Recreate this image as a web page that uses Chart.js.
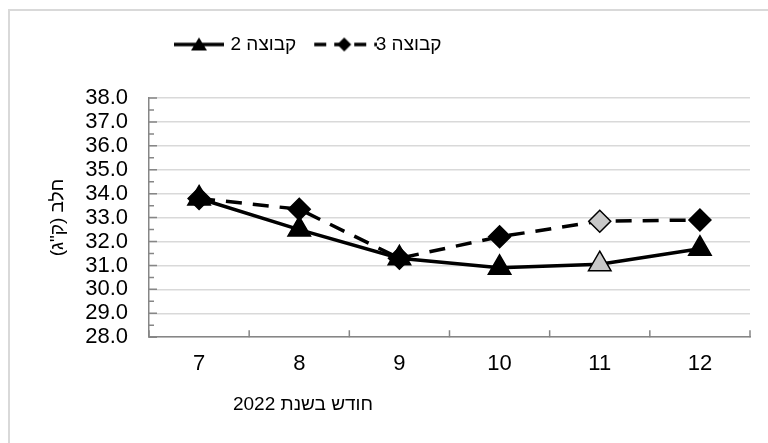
<!DOCTYPE html>
<html lang="he">
<head>
<meta charset="utf-8">
<title>חלב לפי חודש</title>
<script src="https://cdn.jsdelivr.net/npm/chart.js@4.4.1/dist/chart.umd.min.js"></script>
<style>
  html, body { margin: 0; padding: 0; background: #fff; }
  #wrap { position: relative; width: 768px; height: 443px; overflow: hidden; }
  #frame { position: absolute; left: 8px; top: 9px; width: 820px; height: 520px; border: 2px solid #d9d9d9; box-sizing: border-box; }
  #chart { position: absolute; left: 0; top: 0; }
</style>
</head>
<body>
<div id="wrap">
  <div id="frame"></div>
  <canvas id="chart" width="768" height="443"></canvas>
</div>
<script>
// data
const months = ['7', '8', '9', '10', '11', '12'];
const group2 = [33.8, 32.5, 31.3, 30.9, 31.05, 31.7];
const group3 = [33.8, 33.35, 31.3, 32.2, 32.85, 32.9];
const seriesNames = ['קבוצה 2', 'קבוצה 3'];
const yMin = 28, yMax = 38, yStep = 1;
const xTitle = 'חודש בשנת 2022';
const yTitle = 'חלב (ק"ג)';
const greyMonth = '11';   // this month's markers are drawn light grey

const FONT = "'Liberation Sans', Arial, sans-serif";
const axisGrey = '#868686';
const gridGrey = '#d9d9d9';
const lightFill = '#c8c8c8';

// legend keys: line with marker in the middle
function makeKey(dashed, shape) {
    const c = document.createElement('canvas');
    c.width = dashed ? 66 : 50;
    c.height = 20;
    const g = c.getContext('2d');
    const cx = c.width / 2;
    g.strokeStyle = '#000';
    g.lineWidth = 3.5;
    g.beginPath();
    if (dashed) {
        g.setLineDash([12, 8]);
        g.moveTo(3, 10);
    } else {
        g.moveTo(0, 10);
    }
    g.lineTo(c.width, 10);
    g.stroke();
    g.setLineDash([]);
    g.fillStyle = '#000';
    g.beginPath();
    if (shape === 'triangle') {
        g.moveTo(cx, 3); g.lineTo(cx + 8, 16); g.lineTo(cx - 8, 16);
    } else {
        g.moveTo(cx, 3); g.lineTo(cx + 7, 10); g.lineTo(cx, 17); g.lineTo(cx - 7, 10);
    }
    g.closePath(); g.fill();
    return c;
}
const keyImages = [makeKey(false, 'triangle'), makeKey(true, 'diamond')];

const pointFill = ctx => months[ctx.dataIndex] === greyMonth ? lightFill : '#000';

// short tick marks inside the plot, minor ones at half steps
const innerTicks = {
    id: 'innerTicks',
    beforeDatasetsDraw(chart) {
        const { ctx, chartArea, scales: { x, y } } = chart;
        ctx.save();
        ctx.strokeStyle = axisGrey;
        ctx.lineWidth = 1.5;
        ctx.beginPath();
        for (let i = 0; i <= (yMax - yMin) * 2; i++) {
            const v = yMin + i / 2;
            const py = y.getPixelForValue(v);
            ctx.moveTo(chartArea.left, py);
            ctx.lineTo(chartArea.left + (i % 2 === 0 ? 8 : 5), py);
        }
        for (let i = 0; i <= months.length; i++) {
            const px = x.getPixelForValue(i - 0.5);
            ctx.moveTo(px, chartArea.bottom);
            ctx.lineTo(px, chartArea.bottom - 7);
        }
        ctx.stroke();
        ctx.restore();
    }
};

// legend and caption sit left of the plot centre
const placeBlocks = {
    id: 'placeBlocks',
    afterLayout(chart) {
        const lg = chart.legend;
        const dy = 9 - lg.top;
        lg.top += dy; lg.bottom += dy;
        lg.left = 151;
        const tb = chart.titleBlock;
        tb.left = 203; tb.right = 403;
    }
};

new Chart(document.getElementById('chart'), {
    type: 'line',
    data: {
        labels: months,
        datasets: [
            {
                label: seriesNames[0],
                data: group2,
                borderColor: '#000',
                borderWidth: 3.5,
                pointStyle: 'triangle',
                pointRadius: 13,
                pointBorderColor: '#000',
                pointBorderWidth: 1.5,
                pointBackgroundColor: pointFill,
                tension: 0
            },
            {
                label: seriesNames[1],
                data: group3,
                borderColor: '#000',
                borderWidth: 3.5,
                borderDash: [16, 11],
                pointStyle: 'rectRot',
                pointRadius: 11,
                pointBorderColor: '#000',
                pointBorderWidth: 1.5,
                pointBackgroundColor: pointFill,
                tension: 0
            }
        ]
    },
    options: {
        responsive: false,
        animation: false,
        events: [],
        layout: { padding: { top: 43, left: 40, right: 18, bottom: 21 } },
        font: { family: FONT },
        plugins: {
            legend: {
                position: 'top',
                align: 'start',
                labels: {
                    usePointStyle: true,
                    pointStyleWidth: 44,
                    padding: 26,
                    color: '#000',
                    font: { family: FONT, size: 19 },
                    generateLabels: chart => chart.data.datasets.map((ds, i) => ({
                        text: ds.label,
                        pointStyle: keyImages[i],
                        fontColor: '#000',
                        lineWidth: 0,
                        hidden: false,
                        datasetIndex: i
                    }))
                }
            },
            title: {
                display: true,
                position: 'bottom',
                text: xTitle,
                color: '#000',
                font: { family: FONT, size: 19, weight: 'normal' },
                padding: { top: 0, bottom: 6 }
            },
            tooltip: { enabled: false }
        },
        scales: {
            x: {
                offset: true,
                grid: { display: true, drawOnChartArea: false, drawTicks: false, offset: true },
                border: { display: true, color: axisGrey, width: 1.5 },
                ticks: { color: '#000', padding: 14, font: { family: FONT, size: 22 } },
                afterFit: s => { s.height = 56; }
            },
            y: {
                min: yMin,
                max: yMax,
                grid: { color: gridGrey, lineWidth: 1.5, drawTicks: false },
                border: { display: true, color: axisGrey, width: 1.5 },
                ticks: {
                    stepSize: yStep,
                    autoSkip: false,
                    color: '#000',
                    padding: 21,
                    font: { family: FONT, size: 22 },
                    callback: v => Number(v).toFixed(1)
                },
                title: {
                    display: true,
                    text: yTitle,
                    color: '#000',
                    font: { family: FONT, size: 19 },
                    padding: { top: 6, bottom: 0 }
                },
                afterFit: s => { s.width = 109; }
            }
        }
    },
    plugins: [innerTicks, placeBlocks]
});
</script>
</body>
</html>
